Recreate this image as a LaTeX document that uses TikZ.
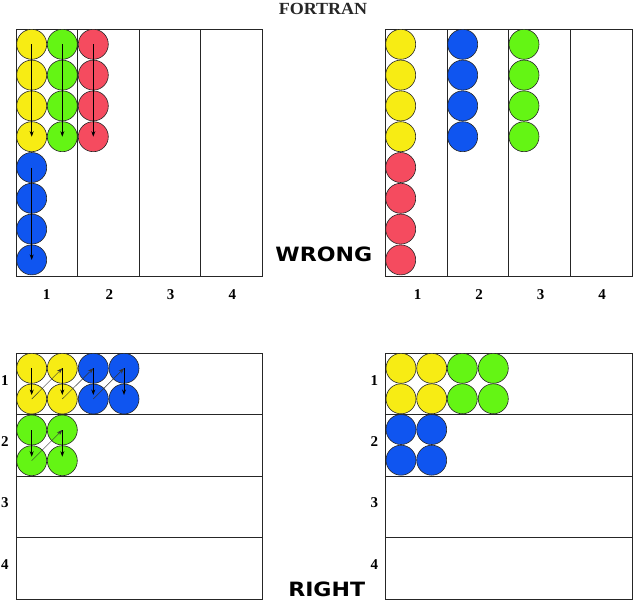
\documentclass[tikz,border=0pt]{standalone}
\usepackage{fontspec}
\setmainfont{Liberation Serif}
\newfontfamily\dvs{DejaVu Sans}
\usetikzlibrary{arrows.meta}
\definecolor{cy}{RGB}{247,236,20}
\definecolor{cg}{RGB}{100,245,20}
\definecolor{cb}{RGB}{15,85,240}
\definecolor{cr}{RGB}{245,75,95}
\tikzset{
  ball/.style={circle, draw=black!85, line width=0.6pt, minimum size=30pt, inner sep=0pt},
  flow/.style={-{Stealth[length=5.5pt,width=4pt]}, line width=0.75pt},
  hop/.style={-{Stealth[length=5.5pt,width=4pt]}, line width=0.45pt, draw=black!80},
  gridline/.style={draw=black!85, line width=0.8pt},
  num/.style={font=\fontsize{15}{15}\selectfont\bfseries, anchor=base, inner sep=0pt},
  big/.style={font=\dvs\fontsize{19.7}{20}\selectfont\bfseries, anchor=base, inner sep=0pt}
}
\begin{document}
\begin{tikzpicture}[x=1pt,y=-1pt]
\useasboundingbox (0,0) rectangle (633,600);
% title
\node[anchor=base, inner sep=0pt, text=black!85, font=\fontsize{17}{17}\selectfont\bfseries] (title) at (323,14) {\scalebox{1.06}[1]{FORTRAN}};
% ---------- grids ----------
\draw[gridline] (16,29.3) rectangle (262,276);
\foreach \x in {77.5,139,200.5} \draw[gridline] (\x,29.3) -- (\x,276);
\draw[gridline] (385.3,29.3) rectangle (632,276);
\foreach \x in {447,508.7,570.3} \draw[gridline] (\x,29.3) -- (\x,276);
\draw[gridline] (16,353.3) rectangle (262,599);
\foreach \y in {414.7,476,537.7} \draw[gridline] (16,\y) -- (262,\y);
\draw[gridline] (385.5,353.3) rectangle (632,599);
\foreach \y in {414.7,476,537.7} \draw[gridline] (385.5,\y) -- (632,\y);
% ---------- labels ----------
\foreach \x/\t in {46.7/1,109.3/2,170.7/3,232.3/4} \node[num] (tl\t) at (\x,299) {\t};
\foreach \x/\t in {417.7/1,479/2,540.7/3,602/4} \node[num] (tr\t) at (\x,299) {\t};
\foreach \y/\t in {385.5/1,446.5/2,507.5/3,569/4} \node[num] (bl\t) at (5,\y) {\t};
\foreach \y/\t in {385.5/1,446.5/2,507.5/3,569/4} \node[num] (br\t) at (374.3,\y) {\t};
\node[big] (wrong) at (323.8,261.7) {\scalebox{1.12}[1]{WRONG}};
\node[big] (right) at (326.7,596) {\scalebox{1.12}[1]{RIGHT}};
% ---------- top-left (wrong) ----------
\foreach \i in {1,...,4} {
  \node[ball, fill=cy] (ay\i) at (31.7,{44.3+30.8*(\i-1)}) {};
  \node[ball, fill=cg] (ag\i) at (62.3,{44.3+30.8*(\i-1)}) {};
  \node[ball, fill=cr] (ar\i) at (93.3,{44.3+30.8*(\i-1)}) {};
  \node[ball, fill=cb] (ab\i) at (31.7,{167.5+30.8*(\i-1)}) {};
}
\draw[flow] (ay1.center) -- (ay4.center);
\draw[flow] (ag1.center) -- (ag4.center);
\draw[flow] (ar1.center) -- (ar4.center);
\draw[flow] (ab1.center) -- (ab4.center);
% ---------- top-right (wrong) ----------
\foreach \i in {1,...,4} {
  \node[ball, fill=cy] (cy\i) at (400.7,{44.3+30.8*(\i-1)}) {};
  \node[ball, fill=cr] (cr\i) at (400.7,{167.5+30.8*(\i-1)}) {};
  \node[ball, fill=cb] (cb\i) at (462.7,{44.3+30.8*(\i-1)}) {};
  \node[ball, fill=cg] (cg\i) at (524,{44.3+30.8*(\i-1)}) {};
}
% ---------- bottom-left (right) ----------
\node[ball, fill=cy] (by11) at (31.7,368.3) {};
\node[ball, fill=cy] (by21) at (31.7,399) {};
\node[ball, fill=cy] (by12) at (62.3,368.3) {};
\node[ball, fill=cy] (by22) at (62.3,399) {};
\node[ball, fill=cb] (bb11) at (93.3,368.3) {};
\node[ball, fill=cb] (bb21) at (93.3,399) {};
\node[ball, fill=cb] (bb12) at (124,368.3) {};
\node[ball, fill=cb] (bb22) at (124,399) {};
\node[ball, fill=cg] (bg11) at (31.7,430) {};
\node[ball, fill=cg] (bg21) at (31.7,460.7) {};
\node[ball, fill=cg] (bg12) at (62.3,430) {};
\node[ball, fill=cg] (bg22) at (62.3,460.7) {};
\draw[flow, shorten >=4pt] (by11.center) -- (by21.center);
\draw[hop] (by21.center) -- (by12.center);
\draw[flow, shorten >=4pt] (by12.center) -- (by22.center);
\draw[hop] (by22.center) -- (bb11.center);
\draw[flow, shorten >=4pt] (bb11.center) -- (bb21.center);
\draw[hop] (bb21.center) -- (bb12.center);
\draw[flow, shorten >=4pt] (bb12.center) -- (bb22.center);
\draw[flow, shorten >=4pt] (bg11.center) -- (bg21.center);
\draw[hop] (bg21.center) -- (bg12.center);
\draw[flow, shorten >=4pt] (bg12.center) -- (bg22.center);
% ---------- bottom-right (right) ----------
\node[ball, fill=cy] (dy11) at (401,368.3) {};
\node[ball, fill=cy] (dy12) at (431.7,368.3) {};
\node[ball, fill=cy] (dy21) at (401,398.8) {};
\node[ball, fill=cy] (dy22) at (431.7,398.8) {};
\node[ball, fill=cg] (dg11) at (462.3,368.3) {};
\node[ball, fill=cg] (dg12) at (493.3,368.3) {};
\node[ball, fill=cg] (dg21) at (462.3,398.8) {};
\node[ball, fill=cg] (dg22) at (493.3,398.8) {};
\node[ball, fill=cb] (db11) at (401,429.5) {};
\node[ball, fill=cb] (db12) at (431.7,429.5) {};
\node[ball, fill=cb] (db21) at (401,460.2) {};
\node[ball, fill=cb] (db22) at (431.7,460.2) {};
\end{tikzpicture}
\end{document}
